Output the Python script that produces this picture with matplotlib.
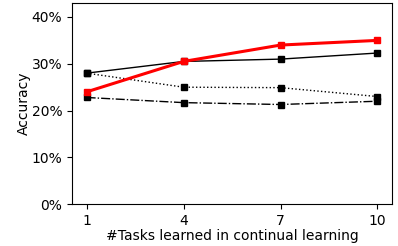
import matplotlib
matplotlib.use("Agg")
import matplotlib.pyplot as plt
from matplotlib.ticker import FuncFormatter

tasks = [1, 4, 7, 10]
acc_ours = [24.0, 30.5, 34.0, 35.0]
acc_solid = [28.0, 30.5, 31.0, 32.3]
acc_dotted = [28.0, 25.0, 24.9, 23.0]
acc_dashdot = [22.8, 21.7, 21.3, 22.0]

fig, ax = plt.subplots(figsize=(3.98, 2.46), dpi=100)

ax.plot(tasks, acc_solid, color="black", linestyle="-", marker="s", markersize=4, linewidth=1)
ax.plot(tasks, acc_dotted, color="black", linestyle=":", marker="s", markersize=4, linewidth=1)
ax.plot(tasks, acc_dashdot, color="black", linestyle=(0, (6.5, 1.5, 1, 1.5)),
        marker="s", markersize=4, linewidth=1)
ax.plot(tasks, acc_ours, color="red", linestyle="-", marker="s", markersize=4, linewidth=2.2)

ax.set_xlim(0.55, 10.45)
ax.set_ylim(0, 43)
ax.set_xticks(tasks)
ax.set_yticks([0, 10, 20, 30, 40])
ax.yaxis.set_major_formatter(FuncFormatter(lambda v, _: f"{v:.0f}%"))
ax.tick_params(labelsize=10)
ax.set_xlabel("#Tasks learned in continual learning", fontsize=10, labelpad=1)
ax.set_ylabel("Accuracy", fontsize=10, labelpad=0.5)

fig.subplots_adjust(left=0.181, right=0.985, top=0.988, bottom=0.17)
fig.savefig("out.png", dpi=100)
